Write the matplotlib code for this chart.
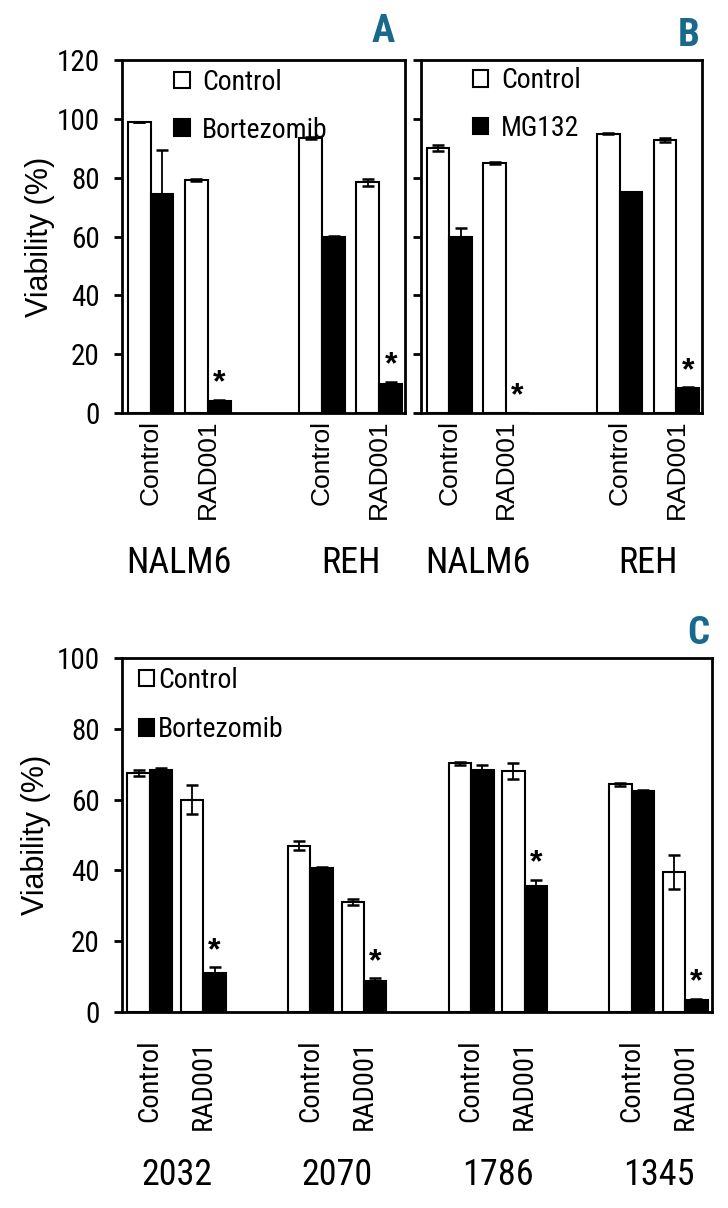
import numpy as np
import matplotlib
matplotlib.use('Agg')
import matplotlib.pyplot as plt

narrow = ['Roboto Condensed', 'DejaVu Sans']
plain = ['Liberation Sans', 'DejaVu Sans']
plt.rcParams['font.family'] = narrow

# panel A / B: NALM6 and REH, control vs RAD001, +/- drug
ticks_ab = ['Control', 'RAD001', 'Control', 'RAD001']
lines_ab = ['NALM6', 'REH']

a_ctrl = [99, 79.3, 93.5, 78.4]
a_ctrl_err = [0, 0.3, 0.3, 1.2]
a_drug = [74.5, 4, 60, 10]
a_drug_err = [15, 0.5, 0.3, 0.5]
a_star = [False, True, False, True]

b_ctrl = [90, 85, 95, 92.8]
b_ctrl_err = [1.1, 0.3, 0.3, 0.6]
b_drug = [60, 0, 75, 8.5]
b_drug_err = [3, 0, 0.2, 0.2]
b_star = [False, True, False, True]

# panel C: primary samples
ticks_c = ['Control', 'RAD001'] * 4
lines_c = ['2032', '2070', '1786', '1345']
c_ctrl = [67.5, 60, 47, 31, 70.2, 68, 64.3, 39.6]
c_ctrl_err = [0.8, 4.1, 1.3, 0.8, 0.4, 2.2, 0.4, 4.8]
c_drug = [68.3, 11, 40.8, 8.7, 68.4, 35.7, 62.5, 3.5]
c_drug_err = [0.5, 1.6, 0.3, 0.8, 1.3, 1.7, 0.2, 0.3]
c_star = [False, True] * 4

teal = '#18698c'


def panel(ax, pos, ctrl, ctrl_err, drug, drug_err, stars, width, ymax, ystep,
          ticks, tick_font, tick_size, tick_pad, lines, line_y, drug_name,
          ylab_pad, leg_anchor, leg_pad, leg_space):
    pos = np.array(pos, dtype=float)
    ekw = dict(ecolor='black', elinewidth=1.3, capsize=4.5, capthick=1.8)
    b1 = ax.bar(pos - width / 2, ctrl, width, yerr=ctrl_err, color='white',
                edgecolor='black', linewidth=1.5, error_kw=ekw, zorder=2)
    b2 = ax.bar(pos + width / 2, drug, width, yerr=drug_err, color='black',
                edgecolor='black', linewidth=1.5, error_kw=ekw, zorder=2)
    for p, v, e, s in zip(pos, drug, drug_err, stars):
        if s:
            ax.annotate('*', (p + width / 2, v + e), xytext=(0, 1),
                        textcoords='offset points', ha='center', va='bottom',
                        fontsize=23, fontweight='bold', family=plain)
    ax.set_ylim(0, ymax)
    ax.set_yticks(np.arange(0, ymax + 1, ystep))
    ax.set_xticks(pos)
    ax.set_xticklabels(ticks, rotation=90, family=tick_font, fontsize=tick_size)
    ax.tick_params(axis='x', length=0, pad=tick_pad)
    ax.tick_params(axis='y', direction='out', length=6, width=2, pad=10,
                   labelsize=21)
    if ylab_pad is None:
        ax.set_yticklabels([])
    else:
        ax.set_ylabel('Viability (%)', family=plain, fontsize=22,
                      labelpad=ylab_pad)
    for sp in ax.spines.values():
        sp.set_linewidth(2)
    trans = ax.get_xaxis_transform()
    for k, name in enumerate(lines):
        cx = pos[2 * k:2 * k + 2].mean()
        ax.text(cx, line_y, name, transform=trans, ha='center', va='center',
                fontsize=26)
    ax.legend([b1, b2], ['Control', drug_name], loc='upper left',
              bbox_to_anchor=leg_anchor, frameon=False, fontsize=20,
              handlelength=0.55, handleheight=0.55, handletextpad=leg_pad,
              labelspacing=leg_space, borderpad=0, borderaxespad=0)


fig = plt.figure(figsize=(7.28, 12.08), dpi=100)

ax1 = fig.add_axes([122 / 728, 1 - 413 / 1208, 283 / 728, 353 / 1208])
panel(ax1, [0, 1, 3, 4], a_ctrl, a_ctrl_err, a_drug, a_drug_err, a_star,
      0.4, 120, 20, ticks_ab, plain, 19, 5, lines_ab, -0.425, 'Bortezomib',
      1, (0.185, 0.975), 0.45, 0.75)
ax1.set_xlim(-0.5, 4.45)

ax2 = fig.add_axes([421 / 728, 1 - 413 / 1208, 281 / 728, 353 / 1208])
panel(ax2, [0, 1, 3, 4], b_ctrl, b_ctrl_err, b_drug, b_drug_err, b_star,
      0.4, 120, 20, ticks_ab, plain, 19, 5, lines_ab, -0.425, 'MG132',
      None, (0.185, 0.98), 0.45, 0.75)
ax2.set_xlim(-0.5, 4.45)

ax3 = fig.add_axes([122 / 728, 1 - 1012 / 1208, 590 / 728, 354 / 1208])
panel(ax3, [0, 1, 3, 4, 6, 7, 9, 10], c_ctrl, c_ctrl_err, c_drug, c_drug_err,
      c_star, 0.42, 100, 20, ticks_c, narrow, 20.5, 20, lines_c, -0.46,
      'Bortezomib', 4, (0.028, 0.975), 0.15, 0.8)
ax3.set_xlim(-0.52, 10.5)

fig.text(383 / 728, 1 - 31 / 1208, 'A', color=teal, fontsize=28,
         fontweight='bold', ha='center', va='center')
fig.text(689 / 728, 1 - 35 / 1208, 'B', color=teal, fontsize=28,
         fontweight='bold', ha='center', va='center')
fig.text(698 / 728, 1 - 633 / 1208, 'C', color=teal, fontsize=28,
         fontweight='bold', ha='center', va='center')

fig.savefig('out.png', dpi=100)
plt.close()
